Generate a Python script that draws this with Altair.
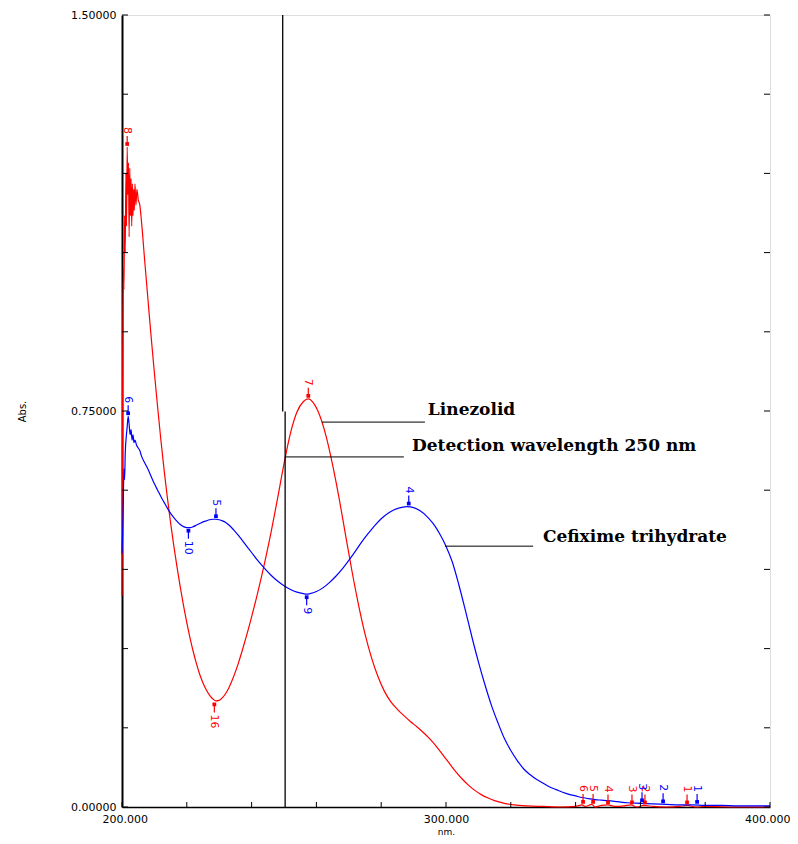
import altair as alt
import pandas as pd

# ---------------- data ----------------
red_nm = [200.0, 200.2, 200.4, 200.6, 200.8, 201.0, 201.2, 201.4, 201.6, 201.8,
          202.0, 202.2, 202.4, 202.6, 202.8, 203.0, 203.2, 203.4, 203.6, 203.8,
          204.0, 204.3, 204.6, 205.0, 205.5, 206.0, 207.0, 208.0, 209.0, 210.0,
          211.0, 212.0, 213.0, 214.0, 215.0, 216.0, 217.0, 218.0, 219.0, 220.0,
          221.0, 222.0, 223.0, 224.0, 225.0, 226.0, 227.0, 228.0, 229.0, 230.0,
          231.0, 232.0, 233.0, 234.0, 235.0, 236.0, 237.0, 238.0, 239.0, 240.0,
          242.0, 244.0, 246.0, 248.0, 250.0, 252.0, 254.0, 256.0, 257.5, 259.0,
          261.0, 263.0, 265.0, 267.0, 269.0, 271.0, 273.0, 275.0, 277.0, 279.0,
          281.0, 283.0, 285.0, 287.0, 289.0, 291.0, 293.0, 295.0, 297.0, 299.0,
          301.0, 303.0, 305.0, 307.0, 309.0, 311.0, 313.0, 315.0, 318.0, 321.0,
          325.0, 330.0, 335.0, 340.0, 342.0, 343.0, 345.0, 346.0, 348.0, 350.0,
          352.0, 355.0, 357.0, 359.0, 361.0, 364.0, 368.0, 372.0, 374.5, 377.0,
          380.0, 390.0, 400.0]
red_abs = [0.40, 0.80, 1.02, 0.98, 1.12, 1.05, 1.20, 1.10, 1.25, 1.16,
           1.22, 1.08, 1.21, 1.12, 1.19, 1.10, 1.18, 1.12, 1.17, 1.13,
           1.18, 1.14, 1.17, 1.15, 1.14, 1.11, 1.035, 0.962, 0.89, 0.822,
           0.757, 0.695, 0.638, 0.586, 0.538, 0.494, 0.454, 0.416, 0.381, 0.349,
           0.320, 0.294, 0.271, 0.251, 0.235, 0.222, 0.212, 0.205, 0.201, 0.202,
           0.207, 0.215, 0.226, 0.240, 0.256, 0.274, 0.294, 0.315, 0.337, 0.36,
           0.409, 0.462, 0.520, 0.584, 0.650, 0.708, 0.748, 0.768, 0.773, 0.766,
           0.742, 0.702, 0.648, 0.585, 0.515, 0.446, 0.383, 0.328, 0.283, 0.247,
           0.219, 0.199, 0.185, 0.173, 0.162, 0.152, 0.141, 0.129, 0.115, 0.099,
           0.083, 0.067, 0.053, 0.041, 0.031, 0.023, 0.017, 0.012, 0.007, 0.004,
           0.002, 0.001, 0.0, 0.001, 0.004, 0.001, 0.005, 0.0, 0.003, 0.004,
           0.001, 0.002, 0.004, 0.0, 0.003, 0.001, 0.0, 0.001, 0.003, 0.0,
           0.001, 0.0, 0.0]

blue_nm = [200.0, 200.2, 200.4, 200.6, 200.8, 201.0, 201.3, 201.6, 201.9, 202.2,
           202.5, 202.8, 203.1, 203.4, 203.7, 204.0, 204.5, 205.0, 205.5, 206.0,
           207.0, 208.0, 209.0, 210.0, 211.0, 212.0, 213.0, 214.0, 215.0, 216.0,
           217.0, 218.0, 219.0, 220.0, 221.0, 222.0, 223.0, 224.0, 225.0, 226.0,
           227.0, 228.0, 229.0, 230.0, 231.0, 232.0, 233.0, 234.0, 235.0, 236.0,
           237.0, 238.0, 239.0, 240.0, 242.0, 244.0, 246.0, 248.0, 250.0, 252.0,
           254.0, 256.0, 257.0, 258.0, 260.0, 262.0, 264.0, 266.0, 268.0, 270.0,
           272.0, 274.0, 276.0, 278.0, 280.0, 282.0, 284.0, 286.0, 288.0, 290.0,
           292.0, 294.0, 296.0, 298.0, 300.0, 302.0, 304.0, 306.0, 308.0, 310.0,
           312.0, 314.0, 316.0, 318.0, 320.0, 322.0, 324.0, 326.0, 328.0, 330.0,
           332.0, 334.0, 336.0, 338.0, 340.0, 342.0, 344.0, 346.0, 348.0, 350.0,
           353.0, 356.0, 360.0, 364.0, 368.0, 372.0, 376.0, 380.0, 385.0, 390.0,
           395.0, 400.0]
blue_abs = [0.48, 0.52, 0.58, 0.64, 0.62, 0.67, 0.70, 0.72, 0.74, 0.725,
            0.705, 0.715, 0.695, 0.705, 0.69, 0.695, 0.685, 0.68, 0.675, 0.665,
            0.652, 0.640, 0.626, 0.612, 0.600, 0.588, 0.577, 0.566, 0.556, 0.548,
            0.541, 0.535, 0.531, 0.529, 0.529, 0.531, 0.534, 0.537, 0.540, 0.542,
            0.544, 0.545, 0.545, 0.544, 0.542, 0.539, 0.534, 0.528, 0.521, 0.514,
            0.506, 0.498, 0.490, 0.482, 0.466, 0.452, 0.439, 0.428, 0.419, 0.412,
            0.407, 0.404, 0.403, 0.404, 0.408, 0.415, 0.425, 0.437, 0.451, 0.467,
            0.484, 0.502, 0.518, 0.533, 0.546, 0.556, 0.563, 0.567, 0.569, 0.567,
            0.561, 0.551, 0.537, 0.518, 0.494, 0.463, 0.42, 0.372, 0.322, 0.275,
            0.232, 0.193, 0.160, 0.130, 0.107, 0.088, 0.072, 0.061, 0.052, 0.045,
            0.038, 0.033, 0.028, 0.024, 0.021, 0.018, 0.016, 0.014, 0.013, 0.012,
            0.010, 0.008, 0.007, 0.006, 0.005, 0.004, 0.004, 0.003, 0.003, 0.002,
            0.002, 0.002]

# peak-pick markers
red_pk_nm = [201.6, 257.5, 228.5, 342.3, 345.4, 350.0, 357.4, 361.4, 374.4]
red_pk_abs = [1.25, 0.773, 0.200, 0.004, 0.004, 0.003, 0.003, 0.003, 0.003]
red_pk_lab = ["8", "7", "16", "6", "5", "4", "3", "2", "1"]
red_pk_dir = [1, 1, -1, 1, 1, 1, 1, 1, 1]

blue_pk_nm = [201.9, 288.5, 229.0, 220.5, 257.0, 360.5, 367.0, 377.5]
blue_pk_abs = [0.74, 0.569, 0.545, 0.529, 0.403, 0.007, 0.005, 0.004]
blue_pk_lab = ["6", "4", "5", "10", "9", "3", "2", "1"]
blue_pk_dir = [1, 1, 1, -1, -1, 1, 1, 1]

x_labels = [200, 300, 400]
y_labels = [0.0, 0.75, 1.5]
x_minor = [200 + 20 * k for k in range(11)]
y_minor = [round(0.15 * k, 2) for k in range(11)]

detection_nm = 250
annotations = ["Linezolid", "Detection wavelength 250 nm", "Cefixime trihydrate"]
ann_x0 = [261.7, 250.3, 299.7]
ann_x1 = [293.5, 287.0, 326.9]
ann_y = [0.729, 0.663, 0.494]
ann_text_x = [294.4, 289.5, 329.9]
ann_text_y = [0.752, 0.684, 0.511]

# ---------------- chart ----------------
W, H = 648, 792
XD = [200, 400]
YD = [0, 1.5]
xpx = (XD[1] - XD[0]) / W
ypx = (YD[1] - YD[0]) / H
RED = "#ff0000"
BLUE = "#0000ff"

xs = alt.Scale(domain=XD, nice=False, zero=False)
ys = alt.Scale(domain=YD, nice=False)

curves = pd.concat([
    pd.DataFrame({"nm": red_nm, "abs": red_abs, "s": "Linezolid"}),
    pd.DataFrame({"nm": blue_nm, "abs": blue_abs, "s": "Cefixime"}),
])
col = alt.Scale(domain=["Linezolid", "Cefixime"], range=[RED, BLUE])

base = alt.Chart(curves)
lines = base.mark_line(strokeWidth=1.2, interpolate="monotone").encode(
    x=alt.X("nm:Q", scale=xs,
            axis=alt.Axis(values=x_labels, format=".3f", ticks=False, grid=False,
                          labelFlush=True, labelFlushOffset=20,
                          domainColor="black", domainWidth=1.5, labelFont="DejaVu Sans",
                          labelFontSize=11, labelColor="black", labelPadding=6,
                          title="nm.", titleFont="DejaVu Sans", titleFontSize=9,
                          titleFontWeight="normal", titleColor="black",
                          titleY=29, titleBaseline="bottom")),
    y=alt.Y("abs:Q", scale=ys,
            axis=alt.Axis(values=y_labels, format=".5f", ticks=False, grid=False,
                          labelFlush=False,
                          domainColor="black", domainWidth=2, labelFont="DejaVu Sans",
                          labelFontSize=11, labelColor="black", labelPadding=6,
                          title="Abs.", titleFont="DejaVu Sans", titleFontSize=10,
                          titleFontWeight="normal", titleColor="black",
                          titleX=-100, titleY=396, titleAlign="center",
                          titleBaseline="middle")),
    color=alt.Color("s:N", scale=col, legend=None),
    detail="s:N",
)

# detection wavelength line (two segments as in the original)
det_df = pd.DataFrame({"x": [detection_nm - 0.4, detection_nm + 0.35],
                       "y": [YD[1], 0.749], "y2": [0.749, YD[0]]})
det = alt.Chart(det_df).mark_rule(color="black", strokeWidth=1.3).encode(
    x=alt.X("x:Q", scale=xs), y=alt.Y("y:Q", scale=ys), y2="y2:Q")

ann_df = pd.DataFrame({"t": annotations, "x0": ann_x0, "x1": ann_x1, "y": ann_y,
                       "tx": ann_text_x, "ty": ann_text_y})
leaders = alt.Chart(ann_df).mark_rule(color="black", strokeWidth=1).encode(
    x=alt.X("x0:Q", scale=xs), x2="x1:Q", y=alt.Y("y:Q", scale=ys))
ann_text = alt.Chart(ann_df).mark_text(
    align="left", baseline="middle", font="DejaVu Serif", fontWeight="bold",
    fontSize=17, color="black").encode(
    x=alt.X("tx:Q", scale=xs), y=alt.Y("ty:Q", scale=ys), text="t:N")

# markers
rows = []
for nm, v, lab, d in zip(red_pk_nm, red_pk_abs, red_pk_lab, red_pk_dir):
    rows.append({"nm": nm, "v": v, "lab": lab, "d": d, "s": "Linezolid"})
for nm, v, lab, d in zip(blue_pk_nm, blue_pk_abs, blue_pk_lab, blue_pk_dir):
    rows.append({"nm": nm, "v": v, "lab": lab, "d": d, "s": "Cefixime"})
mk = pd.DataFrame(rows)
mk["dot"] = mk["v"] + mk["d"] * 3 * ypx
mk["top"] = mk["v"] + mk["d"] * 11 * ypx
mk["ly"] = mk["v"] + mk["d"] * 13 * ypx

mk_rule = alt.Chart(mk).mark_rule(strokeWidth=1.2).encode(
    x=alt.X("nm:Q", scale=xs), y=alt.Y("dot:Q", scale=ys), y2="top:Q",
    color=alt.Color("s:N", scale=col, legend=None))
mk_dot = alt.Chart(mk).mark_point(filled=True, size=14, opacity=1, shape="square").encode(
    x=alt.X("nm:Q", scale=xs), y=alt.Y("dot:Q", scale=ys),
    color=alt.Color("s:N", scale=col, legend=None))
mk_up = alt.Chart(mk[mk["d"] == 1]).mark_text(
    align="right", baseline="middle", angle=90, font="DejaVu Sans", fontSize=11).encode(
    x=alt.X("nm:Q", scale=xs), y=alt.Y("ly:Q", scale=ys), text="lab:N",
    color=alt.Color("s:N", scale=col, legend=None))
mk_dn = alt.Chart(mk[mk["d"] == -1]).mark_text(
    align="left", baseline="middle", angle=90, font="DejaVu Sans", fontSize=11).encode(
    x=alt.X("nm:Q", scale=xs), y=alt.Y("ly:Q", scale=ys), text="lab:N",
    color=alt.Color("s:N", scale=col, legend=None))

# inward tick marks
tick_len = 6
yt = pd.DataFrame({"y": y_minor})
yt["l0"] = XD[0]
yt["l1"] = XD[0] + tick_len * xpx
yt["r0"] = XD[1] - tick_len * xpx
yt["r1"] = XD[1]
left_ticks = alt.Chart(yt).mark_rule(color="black", strokeWidth=1).encode(
    x=alt.X("l0:Q", scale=xs), x2="l1:Q", y=alt.Y("y:Q", scale=ys))
right_ticks = alt.Chart(yt).mark_rule(color="black", strokeWidth=1).encode(
    x=alt.X("r0:Q", scale=xs), x2="r1:Q", y=alt.Y("y:Q", scale=ys))
xt = pd.DataFrame({"x": x_minor})
xt["b0"] = YD[0]
xt["b1"] = YD[0] + 5 * ypx
bottom_ticks = alt.Chart(xt).mark_rule(color="black", strokeWidth=1).encode(
    x=alt.X("x:Q", scale=xs), y=alt.Y("b0:Q", scale=ys), y2="b1:Q")

chart = alt.layer(
    lines, det, leaders, ann_text, mk_rule, mk_dot, mk_up, mk_dn,
    left_ticks, right_ticks, bottom_ticks,
).properties(
    width=W, height=H,
    padding={"left": 114, "top": 7, "right": 20, "bottom": 29},
    autosize=alt.AutoSizeParams(type="none"),
).configure_view(stroke="black", strokeWidth=1).configure(background="white")

chart.save("out.html", embed_options={"renderer": "svg", "actions": False})
